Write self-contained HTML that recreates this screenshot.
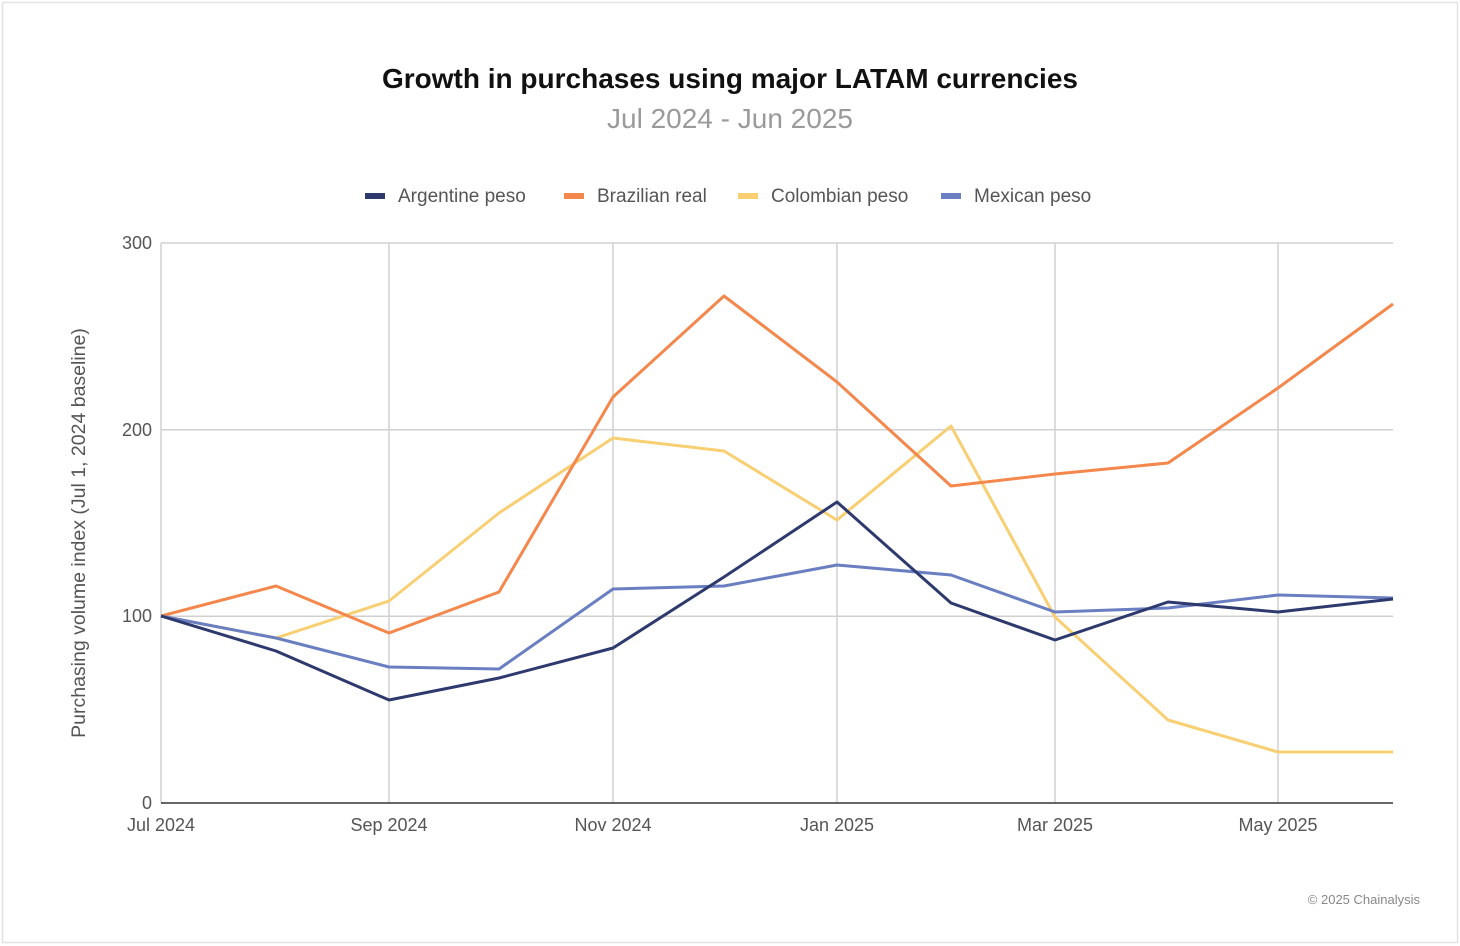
<!DOCTYPE html>
<html><head><meta charset="utf-8"><style>
body{margin:0;background:#fff;}
svg{display:block;font-family:"Liberation Sans",sans-serif;}
</style></head><body>
<svg width="1460" height="946" viewBox="0 0 1460 946" xmlns="http://www.w3.org/2000/svg">
<rect x="2.5" y="2.5" width="1455" height="940" fill="#fff" stroke="#e3e3e3" stroke-width="1.5"/>
<text x="730" y="88" text-anchor="middle" font-size="28" font-weight="bold" fill="#111">Growth in purchases using major LATAM currencies</text>
<text x="730" y="128" text-anchor="middle" font-size="28" fill="#9a9a9a">Jul 2024 - Jun 2025</text>
<g font-size="19" fill="#555">
<rect x="365" y="193" width="20" height="6" fill="#2e3a6e"/><text x="398" y="202">Argentine peso</text>
<rect x="564" y="193" width="20" height="6" fill="#f4874b"/><text x="597" y="202">Brazilian real</text>
<rect x="738" y="193" width="20" height="6" fill="#f9cf73"/><text x="771" y="202">Colombian peso</text>
<rect x="941" y="193" width="20" height="6" fill="#6a7fc1"/><text x="974" y="202">Mexican peso</text>
</g>
<g stroke="#d0d0d0" stroke-width="1.5">
<line x1="161" y1="243" x2="1393" y2="243"/><line x1="161" y1="429.7" x2="1393" y2="429.7"/><line x1="161" y1="616.3" x2="1393" y2="616.3"/>
<line x1="161" y1="243" x2="161" y2="803"/><line x1="389" y1="243" x2="389" y2="803"/><line x1="613" y1="243" x2="613" y2="803"/><line x1="837" y1="243" x2="837" y2="803"/><line x1="1055" y1="243" x2="1055" y2="803"/><line x1="1278" y1="243" x2="1278" y2="803"/>
</g>
<line x1="161" y1="803" x2="1393" y2="803" stroke="#333" stroke-width="1.5"/>
<g font-size="18" fill="#555" text-anchor="end">
<text x="152" y="249">300</text><text x="152" y="436">200</text><text x="152" y="622">100</text><text x="152" y="809">0</text>
</g>
<g font-size="18" fill="#555" text-anchor="middle">
<text x="161" y="831">Jul 2024</text><text x="389" y="831">Sep 2024</text><text x="613" y="831">Nov 2024</text><text x="837" y="831">Jan 2025</text><text x="1055" y="831">Mar 2025</text><text x="1278" y="831">May 2025</text>
</g>
<text transform="translate(85,533) rotate(-90)" text-anchor="middle" font-size="19.5" fill="#555">Purchasing volume index (Jul 1, 2024 baseline)</text>
<g fill="none" stroke-width="3" stroke-linejoin="round">
<polyline stroke="#f9cf73" points="161,616 276,638 389,601 499,513 613,438 724,451 837,520 951,426 1055,617 1168,720 1278,752 1393,752"/>
<polyline stroke="#f4874b" points="161,616 276,586 389,633 499,592 613,397 724,296 837,382 951,486 1055,474 1168,463 1278,388 1393,304"/>
<polyline stroke="#6a7fc1" points="161,616 276,638 389,667 499,669 613,589 724,586 837,565 951,575 1055,612 1168,608 1278,595 1393,598"/>
<polyline stroke="#2e3a6e" points="161,616 276,651 389,700 499,678 613,648 724,577 837,502 951,603 1055,640 1168,602 1278,612 1393,599"/>
</g>
<text x="1420" y="904" text-anchor="end" font-size="13" fill="#888">© 2025 Chainalysis</text>
</svg>
</body></html>
